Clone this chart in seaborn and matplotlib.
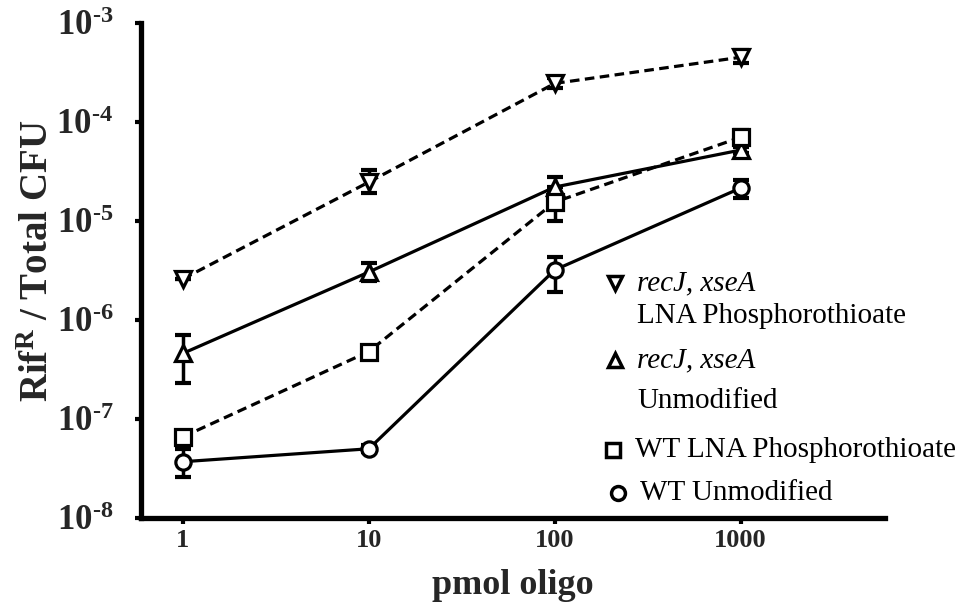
import matplotlib
matplotlib.use("Agg")
import matplotlib.pyplot as plt
import seaborn as sns
import numpy as np
import pandas as pd

# ---- data ----
pmol = [1, 10, 100, 1000]

recj_lna = [2.6e-6, 2.47e-5, 2.45e-4, 4.5e-4]
recj_lna_lo = [2.6e-6, 1.9e-5, 2.2e-4, 3.9e-4]
recj_lna_hi = [2.6e-6, 3.3e-5, 2.8e-4, 5.3e-4]

recj_unmod = [4.6e-7, 3.05e-6, 2.2e-5, 5.2e-5]
recj_unmod_lo = [2.3e-7, 2.5e-6, 1.9e-5, 4.8e-5]
recj_unmod_hi = [7.1e-7, 3.8e-6, 2.8e-5, 5.6e-5]

wt_lna = [6.6e-8, 4.8e-7, 1.55e-5, 7.0e-5]
wt_lna_lo = [6.0e-8, 4.2e-7, 1.0e-5, 6.2e-5]
wt_lna_hi = [7.2e-8, 5.4e-7, 2.2e-5, 8.3e-5]

wt_unmod = [3.7e-8, 5.0e-8, 3.2e-6, 2.15e-5]
wt_unmod_lo = [2.6e-8, 4.6e-8, 1.9e-6, 1.7e-5]
wt_unmod_hi = [5.0e-8, 5.4e-8, 4.3e-6, 2.6e-5]

yticks = [1e-8, 1e-7, 1e-6, 1e-5, 1e-4, 1e-3]
ytick_exps = ["8", "7", "6", "5", "4", "3"]
xtick_labels = ["1", "10", "100", "1000"]

series = [
    # values, lo, hi, marker, linestyle
    (recj_lna, recj_lna_lo, recj_lna_hi, "v", "--"),
    (recj_unmod, recj_unmod_lo, recj_unmod_hi, "^", "-"),
    (wt_lna, wt_lna_lo, wt_lna_hi, "s", "--"),
    (wt_unmod, wt_unmod_lo, wt_unmod_hi, "o", "-"),
]

sns.set_theme(style="ticks")
plt.rcParams["font.family"] = ["Liberation Serif", "DejaVu Serif"]
plt.rcParams["mathtext.fontset"] = "custom"
plt.rcParams["mathtext.rm"] = "Liberation Serif"
plt.rcParams["mathtext.bf"] = "Liberation Serif:bold"
plt.rcParams["mathtext.it"] = "Liberation Serif:italic"

fig = plt.figure(figsize=(9.72, 6.03), dpi=100)
ax = fig.add_axes([0.145, 0.141, 0.765, 0.821])

for vals, lo, hi, mk, ls in series:
    df = pd.DataFrame({"x": pmol, "y": vals})
    vals_a = np.array(vals)
    yerr = np.vstack([vals_a - np.array(lo), np.array(hi) - vals_a])
    ax.errorbar(pmol, vals, yerr=yerr, fmt="none", ecolor="black",
                elinewidth=2.5, capsize=6, capthick=3, zorder=2)
    sns.lineplot(data=df, x="x", y="y", ax=ax, color="black", linewidth=2.3,
                 marker=mk, markersize=11, markerfacecolor="white",
                 markeredgecolor="black", markeredgewidth=2.3, zorder=3)
    line = ax.lines[-1]
    if ls == "--":
        line.set_linestyle((0, (3.0, 1.7)))
    else:
        line.set_linestyle("-")

HY = "\u2010"
ax.set_xscale("log")
ax.set_yscale("log")
ax.set_xlim(0.594, 5940)
ax.set_ylim(1e-8, 1e-3)
ax.set_xticks(pmol)
ax.set_xticklabels(xtick_labels, fontsize=19, fontweight="bold")
ax.set_yticks(yticks)
ax.set_yticklabels(["$\\mathbf{10^{" + HY + e + "}}$" for e in ytick_exps],
                   fontsize=25)
ax.minorticks_off()
ax.tick_params(axis="both", which="major", direction="out", length=4, width=3,
               color="black")
ax.tick_params(axis="x", pad=4)
ax.tick_params(axis="y", pad=16)

for side in ["top", "right"]:
    ax.spines[side].set_visible(False)
for side in ["left", "bottom"]:
    ax.spines[side].set_linewidth(3.8)
    ax.spines[side].set_color("black")

ax.set_xlabel("pmol oligo", fontsize=26, fontweight="bold", labelpad=12)
ax.set_ylabel(r"Rif$^{\mathbf{R}}$ / Total CFU", fontsize=28, fontweight="bold")
ax.yaxis.set_label_coords(-0.113, 0.52)

# legend drawn manually in figure pixel coordinates
def px(x, y):
    return x / 972, 1 - y / 603

legend_rows = [
    ("v", (615, 283), [("recJ, xseA", "italic", 283), ("LNA Phosphorothioate", "normal", 316)]),
    ("^", (615, 360), [("recJ, xseA", "italic", 360), ("Unmodified", "normal", 401)]),
    ("s", (613, 450), [("WT LNA Phosphorothioate", "normal", 450)]),
    ("o", (618, 493), [("WT Unmodified", "normal", 493)]),
]
for mk, (mx, my), texts in legend_rows:
    fx, fy = px(mx, my)
    fig.add_artist(matplotlib.lines.Line2D([fx], [fy], marker=mk, markersize=10,
                                           markerfacecolor="white", markeredgecolor="black",
                                           markeredgewidth=2.5, linestyle="none",
                                           transform=fig.transFigure))
    for t, style, ty in texts:
        tx, tyy = px(mx + 22, ty)
        fig.text(tx, tyy, t, fontsize=21, fontstyle=style, va="center", ha="left",
                 color="black")

fig.savefig("out.png", dpi=100)
